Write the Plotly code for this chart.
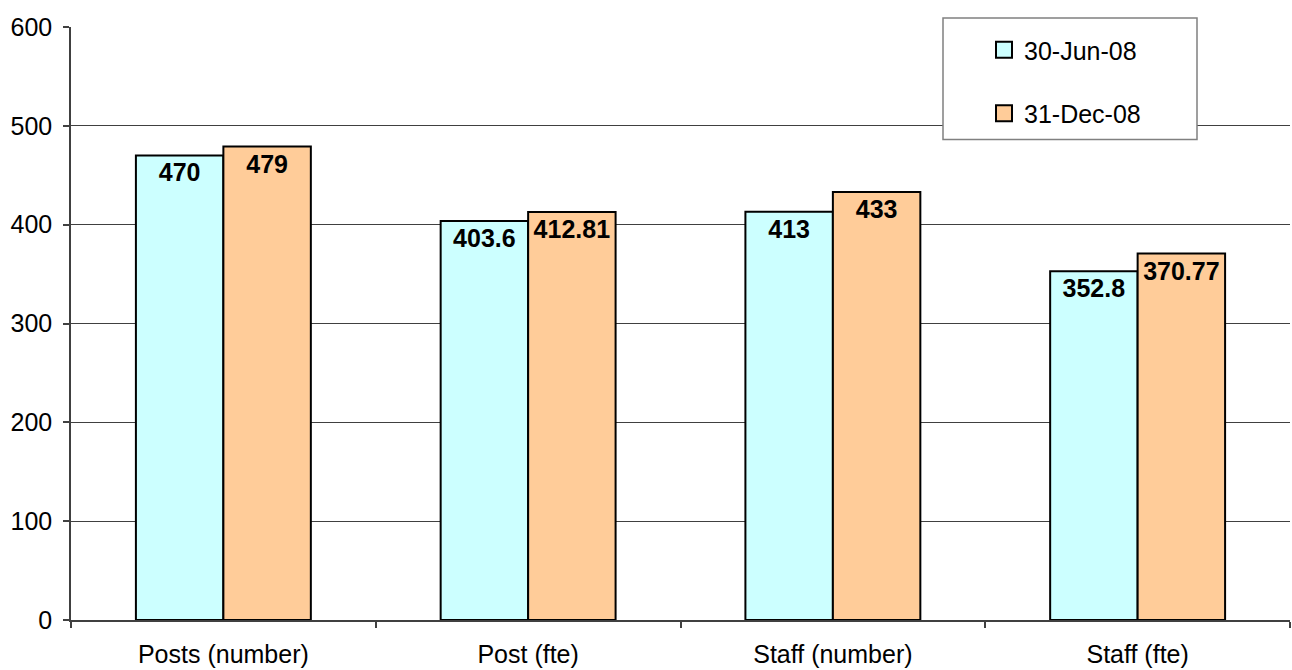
import plotly.graph_objects as go

categories = ["Posts (number)", "Post (fte)", "Staff (number)", "Staff (fte)"]
jun08 = [470, 403.6, 413, 352.8]
dec08 = [479, 412.81, 433, 370.77]
jun_labels = ["470", "403.6", "413", "352.8"]
dec_labels = ["479", "412.81", "433", "370.77"]
series_names = ["30-Jun-08", "31-Dec-08"]
series_colors = ["#CCFFFF", "#FFCC99"]
y_ticks = [0, 100, 200, 300, 400, 500, 600]

FONT = "Liberation Sans, Arial, sans-serif"
FS = 25

fig = go.Figure()
for name, vals, labels, color in [
    (series_names[0], jun08, jun_labels, series_colors[0]),
    (series_names[1], dec08, dec_labels, series_colors[1]),
]:
    fig.add_trace(go.Bar(
        x=categories, y=vals, name=name, showlegend=False,
        marker=dict(color=color, line=dict(color="black", width=2)),
        text=labels, textposition="inside", insidetextanchor="end",
        textangle=0, constraintext="none",
        textfont=dict(family=FONT, size=FS, color="black", weight="bold"),
    ))

# legend proxies with larger square swatches
for i, (name, color) in enumerate(zip(series_names, series_colors)):
    fig.add_trace(go.Scatter(
        x=[None], y=[None], mode="markers", name=name,
        marker=dict(symbol="square", size=17, color=color,
                    line=dict(color="black", width=2)),
        legendgroup=str(i), showlegend=True,
    ))

# legend frame
fig.add_shape(type="rect", xref="paper", yref="paper",
              x0=(943 - 71) / 1219, x1=(1197 - 71) / 1219,
              y0=(622 - 140) / 595, y1=(622 - 18) / 595,
              line=dict(color="#808080", width=1.5), fillcolor="white",
              layer="above")

fig.update_layout(
    width=1292, height=670,
    margin=dict(l=71, r=2, t=27, b=48),
    paper_bgcolor="white", plot_bgcolor="white",
    barmode="group", bargap=0.426, bargroupgap=0,
    font=dict(family=FONT, size=FS, color="black"),
    showlegend=True,
    legend=dict(
        x=(984 - 71) / 1219, y=(622 - 27) / 595, xanchor="left", yanchor="top",
        bgcolor="rgba(0,0,0,0)", borderwidth=0,
        font=dict(family=FONT, size=FS, color="black"),
        tracegroupgap=28, itemwidth=30,
    ),
    xaxis=dict(
        showline=True, linecolor="#404040", linewidth=1.5,
        ticks="outside", ticklen=6, tickcolor="#404040", tickwidth=1.5,
        tickson="boundaries", showgrid=False, ticklabelstandoff=11,
        tickfont=dict(family=FONT, size=FS),
    ),
    yaxis=dict(
        range=[0, 600], tickvals=y_ticks,
        showline=True, linecolor="#404040", linewidth=1.5,
        ticks="outside", ticklen=6, tickcolor="#404040", tickwidth=1.5,
        showgrid=True, gridcolor="#404040", gridwidth=1,
        zeroline=False, ticklabelstandoff=6,
        tickfont=dict(family=FONT, size=FS),
    ),
)

fig.write_html("out.html")
